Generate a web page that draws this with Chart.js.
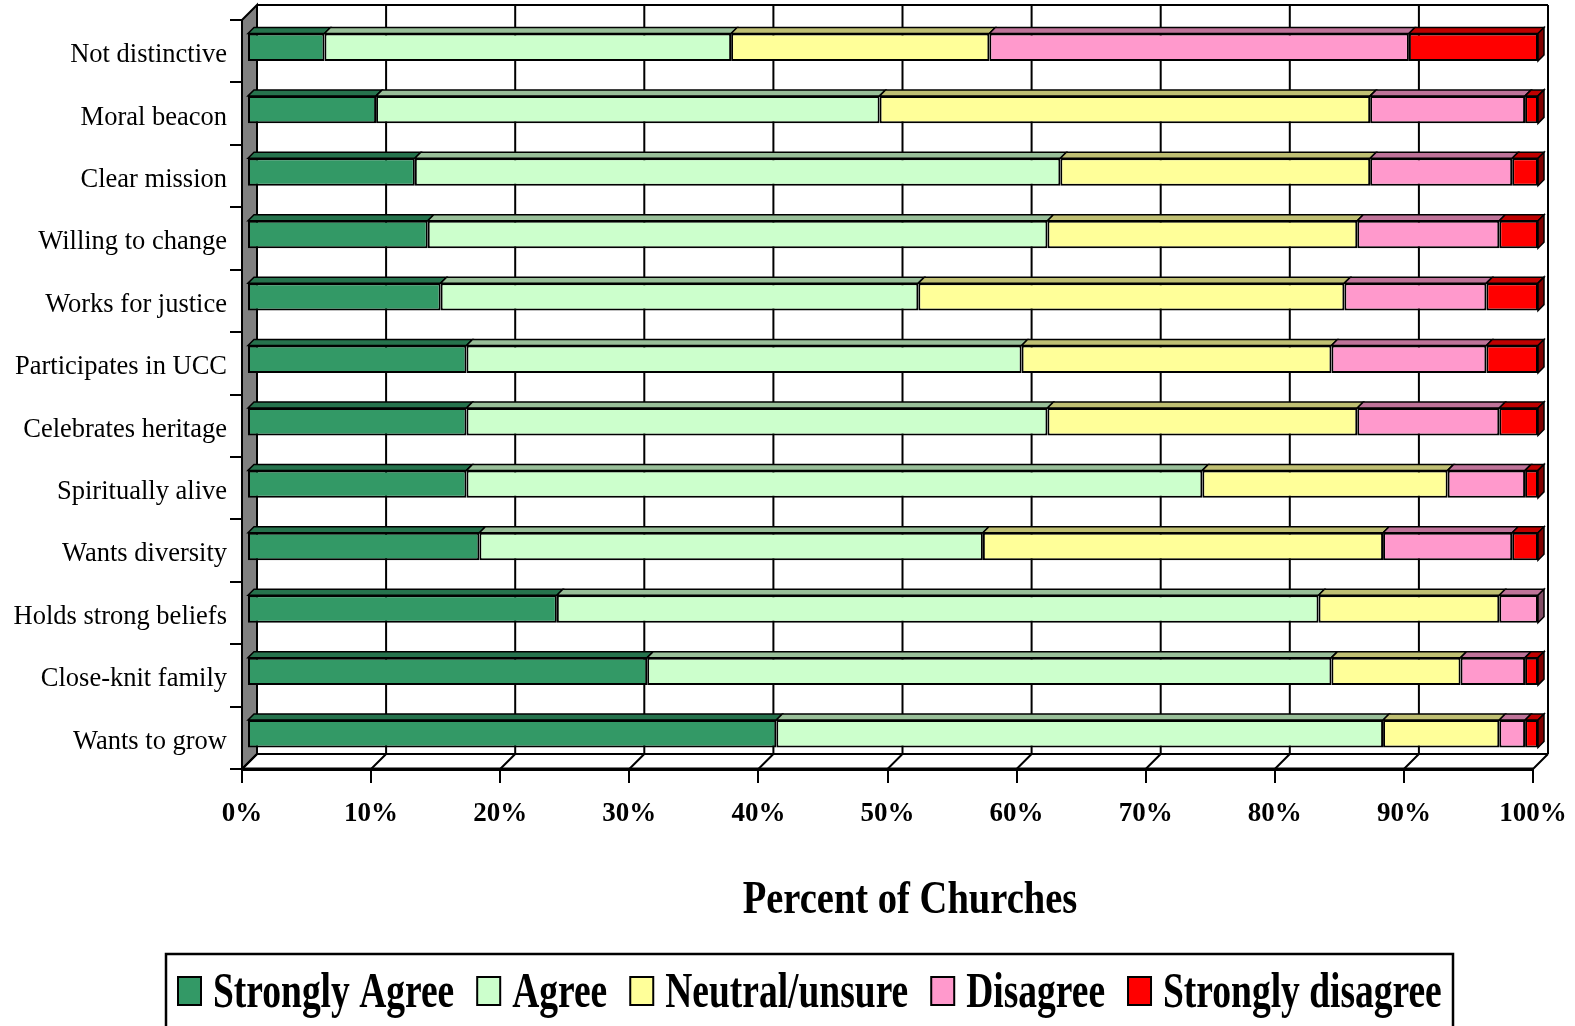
<!DOCTYPE html>
<html>
<head>
<meta charset="utf-8">
<script src="https://cdn.jsdelivr.net/npm/chart.js@4.4.0/dist/chart.umd.min.js"></script>
<style>
  html, body { margin: 0; padding: 0; background: #fff; }
  canvas { display: block; }
</style>
</head>
<body>
<canvas id="chart" width="1575" height="1026"></canvas>
<script>
// --- Données ---
const categories = ['Not distinctive', 'Moral beacon', 'Clear mission', 'Willing to change',
  'Works for justice', 'Participates in UCC', 'Celebrates heritage', 'Spiritually alive',
  'Wants diversity', 'Holds strong beliefs', 'Close-knit family', 'Wants to grow'];
const seriesNames = ['Strongly Agree', 'Agree', 'Neutral/unsure', 'Disagree', 'Strongly disagree'];
const stronglyAgree    = [6, 10, 13, 14, 15, 17, 17, 17, 18, 24, 31, 41];
const agree            = [31.5, 39, 50, 48, 37, 43, 45, 57, 39, 59, 53, 47];
const neutral          = [20, 38, 24, 24, 33, 24, 24, 19, 31, 14, 10, 9];
const disagree         = [32.5, 12, 11, 11, 11, 12, 11, 6, 10, 3, 5, 2];
const stronglyDisagree = [10, 1, 2, 3, 4, 4, 3, 1, 2, 0, 1, 1];
const xTickValues = [0, 10, 20, 30, 40, 50, 60, 70, 80, 90, 100];
const axisTitle = 'Percent of Churches';

const seriesValues = [stronglyAgree, agree, neutral, disagree, stronglyDisagree];
const seriesColors = ['#339966', '#CCFFCC', '#FFFF99', '#FF99CC', '#FF0000'];

const FONT = '"Liberation Serif", "Times New Roman", serif';
Chart.defaults.font.family = FONT;
Chart.defaults.color = '#000';

// effet 3D façon Excel
const DEPTH = 15;
const BAR_SHIFT = { x: 5, y: -4 };
const BAR_DEPTH = 6;

function shade(hex, f) {
  const n = parseInt(hex.slice(1), 16);
  const r = Math.round(((n >> 16) & 255) * f);
  const g = Math.round(((n >> 8) & 255) * f);
  const b = Math.round((n & 255) * f);
  return `rgb(${r},${g},${b})`;
}

const frame3d = {
  id: 'frame3d',
  beforeDatasetsDraw(chart) {
    const { ctx, chartArea: a, scales: { x } } = chart;
    ctx.save();
    ctx.strokeStyle = '#000';
    ctx.lineWidth = 2;

    // mur du fond : quadrillage vertical
    ctx.beginPath();
    xTickValues.forEach(v => {
      const px = x.getPixelForValue(v) + DEPTH;
      ctx.moveTo(px, a.top - DEPTH);
      ctx.lineTo(px, a.bottom - DEPTH);
    });
    ctx.moveTo(a.left + DEPTH, a.top - DEPTH);
    ctx.lineTo(a.right + DEPTH, a.top - DEPTH);
    ctx.stroke();

    // mur gauche gris
    ctx.beginPath();
    ctx.moveTo(a.left, a.top);
    ctx.lineTo(a.left + DEPTH, a.top - DEPTH);
    ctx.lineTo(a.left + DEPTH, a.bottom - DEPTH);
    ctx.lineTo(a.left, a.bottom);
    ctx.closePath();
    ctx.fillStyle = '#808080';
    ctx.fill();
    ctx.stroke();

    // plancher
    ctx.beginPath();
    ctx.moveTo(a.left + DEPTH, a.bottom - DEPTH);
    ctx.lineTo(a.right + DEPTH, a.bottom - DEPTH);
    xTickValues.forEach(v => {
      const px = x.getPixelForValue(v);
      ctx.moveTo(px, a.bottom);
      ctx.lineTo(px + DEPTH, a.bottom - DEPTH);
    });
    ctx.stroke();
    ctx.lineWidth = 3;
    ctx.beginPath();
    ctx.moveTo(a.left, a.bottom);
    ctx.lineTo(a.right, a.bottom);
    ctx.stroke();
    ctx.restore();

    ctx.save();
    ctx.translate(BAR_SHIFT.x, BAR_SHIFT.y);
  },
  afterDatasetsDraw(chart) {
    const ctx = chart.ctx;
    const d = BAR_DEPTH;
    ctx.lineWidth = 1.5;
    ctx.strokeStyle = '#000';
    const lastByRow = categories.map((_, i) => {
      let last = -1;
      seriesValues.forEach((s, k) => { if (s[i] > 0) last = k; });
      return last;
    });
    chart.data.datasets.forEach((ds, k) => {
      const meta = chart.getDatasetMeta(k);
      meta.data.forEach((el, i) => {
        const p = el.getProps(['x', 'y', 'base', 'height'], true);
        const left = Math.min(p.x, p.base), right = Math.max(p.x, p.base);
        if (right - left < 0.5) return;
        const top = p.y - p.height / 2, bottom = p.y + p.height / 2;
        ctx.beginPath();
        ctx.moveTo(left, top);
        ctx.lineTo(left + d, top - d);
        ctx.lineTo(right + d, top - d);
        ctx.lineTo(right, top);
        ctx.closePath();
        ctx.fillStyle = shade(seriesColors[k], 0.75);
        ctx.fill();
        ctx.stroke();
        if (lastByRow[i] === k) {
          ctx.beginPath();
          ctx.moveTo(right, top);
          ctx.lineTo(right + d, top - d);
          ctx.lineTo(right + d, bottom - d);
          ctx.lineTo(right, bottom);
          ctx.closePath();
          ctx.fillStyle = shade(seriesColors[k], 0.5);
          ctx.fill();
          ctx.stroke();
        }
      });
    });
    ctx.restore();
  },
  afterDraw(chart) {
    const ctx = chart.ctx;
    ctx.save();
    ctx.fillStyle = '#000';

    // titre de l'axe (police étroite)
    ctx.font = `bold 47px ${FONT}`;
    ctx.textAlign = 'center';
    ctx.textBaseline = 'alphabetic';
    ctx.save();
    ctx.translate(910, 913);
    ctx.scale(0.82, 1);
    ctx.fillText(axisTitle, 0, 0);
    ctx.restore();

    // légende encadrée
    ctx.lineWidth = 2.5;
    ctx.strokeStyle = '#000';
    ctx.strokeRect(166, 954, 1287, 100);
    ctx.font = `bold 51px ${FONT}`;
    ctx.textAlign = 'left';
    let cx = 178;
    seriesNames.forEach((name, k) => {
      ctx.fillStyle = seriesColors[k];
      ctx.fillRect(cx, 977, 23, 28);
      ctx.lineWidth = 2;
      ctx.strokeRect(cx, 977, 23, 28);
      cx += 35;
      ctx.fillStyle = '#000';
      ctx.save();
      ctx.translate(cx, 1007);
      ctx.scale(0.735, 1);
      ctx.fillText(name, 0, 0);
      ctx.restore();
      cx += ctx.measureText(name).width * 0.735 + 23;
    });
    ctx.restore();
  }
};

new Chart(document.getElementById('chart'), {
  type: 'bar',
  data: {
    labels: categories,
    datasets: seriesNames.map((name, k) => ({
      label: name,
      data: seriesValues[k],
      backgroundColor: seriesColors[k],
      borderColor: '#000',
      borderWidth: 2,
      borderSkipped: false,
      barPercentage: 0.44,
      categoryPercentage: 1,
      clip: false
    }))
  },
  options: {
    indexAxis: 'y',
    responsive: false,
    devicePixelRatio: 1,
    animation: false,
    layout: { padding: { left: 0, top: 20, right: 42, bottom: 0 } },
    plugins: { legend: { display: false }, tooltip: { enabled: false } },
    scales: {
      x: {
        stacked: true,
        min: 0,
        max: 100,
        afterFit: s => { s.height = 257; s.paddingLeft = 0; s.paddingRight = 0; },
        afterBuildTicks: s => { s.ticks = xTickValues.map(v => ({ value: v })); },
        grid: { drawOnChartArea: false, color: '#000', lineWidth: 2, tickLength: 14 },
        border: { color: '#000', width: 3 },
        ticks: {
          callback: v => v + '%',
          font: { size: 27, weight: 'bold' },
          padding: 15,
          maxRotation: 0
        }
      },
      y: {
        stacked: true,
        afterFit: s => { s.width = 242; },
        grid: { drawOnChartArea: false, color: '#000', lineWidth: 2, tickLength: 12, offset: true },
        border: { color: '#000', width: 2 },
        ticks: { font: { size: 26.5 }, padding: 3, labelOffset: 4 }
      }
    }
  },
  plugins: [frame3d]
});
</script>
</body>
</html>
